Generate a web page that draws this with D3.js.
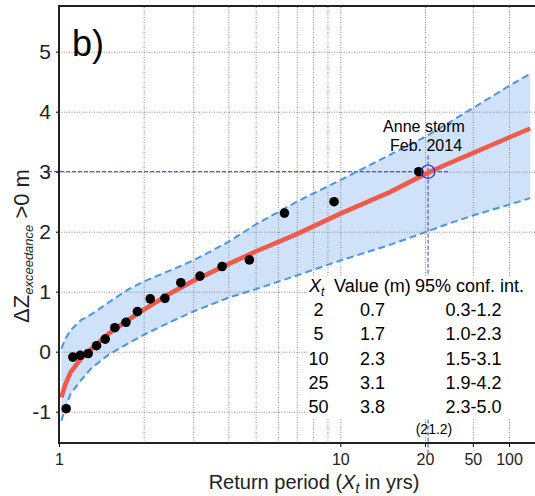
<!DOCTYPE html>
<html lang="en">

<head>
  <meta charset="UTF-8">
  <title>Return period of exceedance</title>
  <script src="https://d3js.org/d3.v7.min.js"></script>
  <style>
    body { margin: 0; background: #fff; }
    svg { font-family: Arial, "Liberation Sans", sans-serif; }
  </style>
</head>

<body>
  <svg id="return-period" width="535" height="496"></svg>

  <script>
    // observed events: return period (yrs) and exceedance (m)
    const obsPeriod = [1.06, 1.12, 1.19, 1.27, 1.36, 1.46, 1.58, 1.73, 1.9, 2.11, 2.38, 2.71, 3.17, 3.8, 4.75, 6.33, 9.5, 19];
    const obsValue = [-0.95, -0.09, -0.06, -0.03, 0.1, 0.21, 0.4, 0.49, 0.67, 0.88, 0.89, 1.15, 1.26, 1.42, 1.53, 2.31, 2.5, 3.0];

    // fitted curve with its 95% confidence band
    const fitPeriod = [1.02, 1.05, 1.1, 1.2, 1.3, 1.5, 1.75, 2, 2.5, 3, 4, 5, 7, 10, 15, 20, 30, 50, 100, 150];
    const fitValue = [-0.76, -0.56, -0.34, -0.11, 0.04, 0.30, 0.52, 0.70, 0.98, 1.18, 1.46, 1.67, 1.96, 2.30, 2.66, 2.96, 3.12, 3.31, 3.57, 3.72];
    const upperValue = [0.05, 0.2, 0.36, 0.53, 0.62, 0.82, 1.03, 1.17, 1.36, 1.52, 1.83, 2.12, 2.5, 2.86, 3.28, 3.58, 3.79, 4.06, 4.43, 4.63];
    const lowerValue = [-1.15, -0.95, -0.7, -0.47, -0.28, -0.05, 0.13, 0.28, 0.5, 0.67, 0.9, 1.04, 1.27, 1.52, 1.78, 1.99, 2.12, 2.27, 2.45, 2.56];

    // return level table
    const tablePeriod = ['2', '5', '10', '25', '50'];
    const tableValue = ['0.7', '1.7', '2.3', '3.1', '3.8'];
    const tableInterval = ['0.3-1.2', '1.0-2.3', '1.5-3.1', '1.9-4.2', '2.3-5.0'];

    // axes
    const xTicks = [1, 10, 20, 50, 100];
    const xGrid = [2, 3, 4, 5, 6, 7, 8, 9, 10, 20, 50, 100];
    const yTicks = [-1, 0, 1, 2, 3, 4, 5];

    // Anne storm, Feb. 2014
    const stormPeriod = 21.2;
    const stormValue = 3;

    const svg = d3.select('svg#return-period');
    const width = +svg.attr('width');
    const margin = { top: 6, left: 59, bottom: 443 };

    // log axis, squeezed above 20 yrs
    const x = d3.scaleLog().domain([1, 20, 100]).range([59, 425, 509]);
    const y = d3.scaleLinear().domain([-1, 5]).range([411.7, 51.7]);

    const fit = fitPeriod.map((t, i) => ({ t: t, v: fitValue[i], hi: upperValue[i], lo: lowerValue[i] }));

    // confidence band
    svg.append('path')
      .datum(fit)
      .attr('fill', '#cfe2f9')
      .attr('d', d3.area().x(d => x(d.t)).y0(d => y(d.lo)).y1(d => y(d.hi)));

    // gridlines
    const gridStyle = g => {
      g.select('.domain').remove();
      g.selectAll('line').attr('stroke', '#8c8c8c').attr('stroke-dasharray', '1,1.5');
    };
    svg.append('g')
      .attr('transform', 'translate(0,' + margin.bottom + ')')
      .call(d3.axisBottom(x).tickValues(xGrid).tickSize(-(margin.bottom - margin.top)).tickFormat(''))
      .call(gridStyle);
    svg.append('g')
      .attr('transform', 'translate(' + margin.left + ',0)')
      .call(d3.axisLeft(y).tickValues(yTicks).tickSize(-(width - margin.left)).tickFormat(''))
      .call(gridStyle);

    // storm crosshair
    const sx = x(stormPeriod), sy = y(stormValue);
    const storm = svg.append('g')
      .attr('stroke', '#3b3bd8')
      .attr('stroke-width', 1)
      .attr('stroke-dasharray', '4,2');
    storm.append('line').attr('x1', 48).attr('x2', sx + 22).attr('y1', sy).attr('y2', sy);
    storm.append('line').attr('x1', sx).attr('x2', sx).attr('y1', sy - 16).attr('y2', 455);

    // white box behind the table
    svg.append('rect')
      .attr('x', 307).attr('y', 276)
      .attr('width', width - 307).attr('height', 142)
      .attr('fill', '#fff');

    // band edges and fitted line
    const bandLine = key => d3.line().x(d => x(d.t)).y(d => y(d[key]));
    ['hi', 'lo'].forEach(k => {
      svg.append('path')
        .datum(fit)
        .attr('fill', 'none')
        .attr('stroke', '#4a94ea')
        .attr('stroke-width', 2)
        .attr('stroke-dasharray', '7,4')
        .attr('d', bandLine(k));
    });
    svg.append('path')
      .datum(fit)
      .attr('fill', 'none')
      .attr('stroke', '#f05a4b')
      .attr('stroke-width', 4.6)
      .attr('d', bandLine('v'));

    // observations
    svg.append('g')
      .selectAll('circle')
      .data(obsPeriod.map((t, i) => ({ t: t, v: obsValue[i] })))
      .join('circle')
      .attr('cx', d => x(d.t))
      .attr('cy', d => y(d.v))
      .attr('r', 4.8)
      .attr('fill', '#000');

    svg.append('circle')
      .attr('cx', sx).attr('cy', sy).attr('r', 6.7)
      .attr('fill', 'none')
      .attr('stroke', '#2b2bd9')
      .attr('stroke-width', 1.2);

    svg.append('text')
      .attr('x', 424).attr('y', 131.5)
      .attr('text-anchor', 'middle')
      .style('font-size', '16px')
      .text('Anne storm');
    svg.append('text')
      .attr('x', 426).attr('y', 150.5)
      .attr('text-anchor', 'middle')
      .style('font-size', '16px')
      .text('Feb. 2014');
    svg.append('text')
      .attr('x', 434).attr('y', 434)
      .attr('text-anchor', 'middle')
      .style('font-size', '14px')
      .text('(' + stormPeriod + ')');

    // table
    const table = svg.append('g').style('font-size', '18px');
    const head = table.append('text').attr('x', 309).attr('y', 292);
    head.append('tspan').style('font-style', 'italic').text('X');
    head.append('tspan').style('font-style', 'italic').style('font-size', '12px').attr('dy', 4).text('t');
    table.append('text').attr('x', 334).attr('y', 292).text('Value (m)');
    table.append('text').attr('x', 415).attr('y', 292).text('95% conf. int.');
    tablePeriod.forEach((p, i) => {
      const by = 316 + i * 24.3;
      table.append('text').attr('x', 318.5).attr('y', by).attr('text-anchor', 'middle').text(p);
      table.append('text').attr('x', 360).attr('y', by).text(tableValue[i]);
      table.append('text').attr('x', 445.5).attr('y', by).text(tableInterval[i]);
    });

    // axes
    const yAxis = svg.append('g')
      .attr('transform', 'translate(' + margin.left + ',0)')
      .call(d3.axisLeft(y).tickValues(yTicks).tickSize(3).tickSizeOuter(0).tickPadding(5).tickFormat(d => String(d)));
    yAxis.select('.domain').remove();
    yAxis.selectAll('text').style('font-size', '21px').attr('fill', '#222');

    const xAxis = svg.append('g')
      .attr('transform', 'translate(0,' + margin.bottom + ')')
      .call(d3.axisBottom(x).tickValues(xTicks).tickSize(4).tickPadding(7).tickFormat(d => String(d)));
    xAxis.select('.domain').remove();
    xAxis.selectAll('text').style('font-size', '16px').attr('fill', '#222');

    // frame
    svg.append('path')
      .attr('d', 'M' + (width + 5) + ',' + margin.top + 'H' + margin.left + 'V' + margin.bottom + 'H' + (width + 5))
      .attr('fill', 'none')
      .attr('stroke', '#222')
      .attr('stroke-width', 2);

    svg.append('text')
      .attr('x', 72).attr('y', 56)
      .style('font-size', '36px')
      .text('b)');

    // axis titles
    const xTitle = svg.append('text')
      .attr('x', 314).attr('y', 489)
      .attr('text-anchor', 'middle')
      .style('font-size', '20px')
      .attr('fill', '#222');
    xTitle.append('tspan').text('Return period (');
    xTitle.append('tspan').style('font-style', 'italic').text('X');
    xTitle.append('tspan').style('font-style', 'italic').style('font-size', '14px').attr('dy', 4).text('t');
    xTitle.append('tspan').attr('dy', -4).text(' in yrs)');

    const yTitle = svg.append('text')
      .attr('transform', 'translate(28.5,246) rotate(-90)')
      .attr('text-anchor', 'middle')
      .style('font-size', '22px')
      .attr('fill', '#222');
    yTitle.append('tspan').text('\u0394Z');
    yTitle.append('tspan').style('font-style', 'italic').style('font-size', '13px').attr('dy', 4).text('exceedance');
    yTitle.append('tspan').attr('dy', -4).text(' >0 m');
  </script>
</body>

</html>
